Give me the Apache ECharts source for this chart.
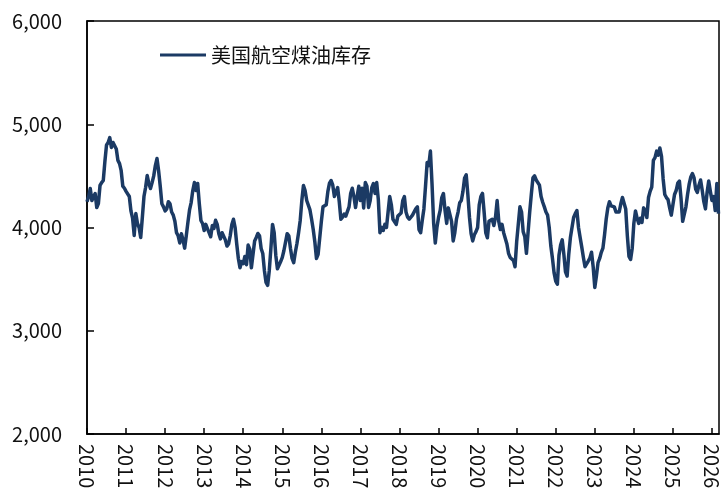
<!DOCTYPE html>
<html>
<head>
<meta charset="utf-8">
<style>
  html, body { margin: 0; padding: 0; background: #fff; }
  #chart { width: 722px; height: 493px; }
</style>
<script src="https://cdn.jsdelivr.net/npm/echarts@6/dist/echarts.min.js"></script>
</head>
<body>
<div id="chart"></div>
<script>
// US jet fuel inventory, semi-monthly readings (24 per year)
const seriesName = '美国航空煤油库存';
const v2010 = [4250,4300,4377,4261,4300,4329,4194,4232,4407,4435,4455,4640,4800,4823,4870,4774,4823,4813,4760,4650,4619,4550,4400,4380];
const v2011 = [4350,4335,4300,4160,4090,3923,4135,4039,4000,3903,4097,4300,4387,4503,4426,4377,4435,4500,4600,4668,4550,4400,4230,4200];
const v2012 = [4160,4180,4250,4230,4150,4120,4060,3950,3920,3850,3940,3880,3800,3920,4050,4170,4242,4358,4435,4358,4426,4232,4068,4039];
const v2013 = [3971,4030,3990,3950,3910,4020,3990,4070,4030,3940,3890,3950,3960,3880,3820,3840,3920,4030,4080,4000,3840,3700,3610,3670];
const v2014 = [3650,3720,3640,3830,3790,3610,3600,3870,3903,3942,3920,3797,3748,3584,3468,3440,3584,3800,4030,3950,3730,3600,3610,3670];
const v2015 = [3710,3777,3760,3940,3920,3800,3700,3660,3760,3845,3950,4068,4261,4407,4358,4261,4261,4170,4080,3980,3860,3700,3740,3900];
const v2016 = [4060,4200,4200,4220,4350,4430,4455,4410,4300,4300,4387,4250,4080,4100,4130,4110,4120,4200,4330,4380,4300,4194,4300,4400];
const v2017 = [4261,4380,4190,4435,4400,4194,4261,4387,4426,4329,4435,4270,3950,4000,3971,4030,4000,4150,4300,4220,4080,4080,4030,4110];
const v2018 = [4100,4140,4260,4300,4150,4100,4080,4070,4120,4120,4180,4200,3980,3950,4070,4180,4400,4630,4600,4740,4420,4040,3850,4000];
const v2019 = [4097,4165,4290,4329,4165,4040,4190,4194,4060,3870,3950,4080,4150,4240,4261,4350,4480,4510,4320,4100,3940,3870,3930,3960];
const v2020 = [4000,4220,4300,4330,4150,3950,3900,4060,4060,4080,4020,4100,4261,4060,3980,4030,3950,3960,3840,3750,3710,3710,3681,3620];
const v2021 = [3860,3874,4200,4150,3960,3910,3750,3950,4150,4320,4480,4500,4460,4470,4410,4300,4245,4200,4150,4120,4000,3820,3700,3560];
const v2022 = [3480,3450,3730,3830,3880,3740,3570,3530,3740,3900,4000,4097,4135,4165,4000,3903,3810,3710,3620,3613,3675,3705,3760,3620];
const v2023 = [3420,3530,3660,3700,3760,3800,3930,4080,4190,4250,4210,4200,4200,4150,4150,4150,4230,4290,4280,4180,3920,3720,3690,3800];
const v2024 = [4040,4160,4090,4040,4090,4050,4190,4160,4097,4290,4350,4390,4650,4677,4740,4700,4770,4690,4470,4320,4290,4270,4190,4120];
const v2025 = [4220,4320,4358,4430,4450,4280,4060,4060,4200,4320,4420,4490,4523,4480,4370,4340,4410,4460,4360,4250,4180,4340,4450,4350];
const v2026 = [4261,4300,4165,4426,4135];

const years = [2010,2011,2012,2013,2014,2015,2016,2017,2018,2019,2020,2021,2022,2023,2024,2025,2026];
const yearValues = [v2010,v2011,v2012,v2013,v2014,v2015,v2016,v2017,v2018,v2019,v2020,v2021,v2022,v2023,v2024,v2025,v2026];
const perYear = 24;

const yTicks = [2000, 3000, 4000, 5000, 6000];

const data = [];
years.forEach((y, k) => {
  yearValues[k].forEach((v, i) => data.push([y + i / perYear, v]));
});

const font = '"Noto Sans CJK SC", "Noto Sans", sans-serif';
const chart = echarts.init(document.getElementById('chart'), null, { renderer: 'canvas' });
chart.setOption({
  animation: false,
  backgroundColor: '#ffffff',
  grid: {
    left: 87, right: 3, top: 21, bottom: 59,
    show: true, borderColor: '#000', borderWidth: 1.5, backgroundColor: 'transparent'
  },
  legend: {
    data: [{ name: seriesName, icon: 'rect' }],
    left: 155, top: 40,
    itemWidth: 46, itemHeight: 3, itemGap: 4,
    textStyle: { fontFamily: font, fontSize: 20, color: '#111', padding: [0, 0, 0, 0] }
  },
  xAxis: {
    type: 'value',
    min: 2010, max: 2026.18, interval: 1,
    axisLine: { show: true, lineStyle: { color: '#000', width: 1.5 } },
    axisTick: { show: true, inside: true, length: 6, lineStyle: { color: '#000', width: 1.5 } },
    splitLine: { show: false },
    axisLabel: {
      rotate: -90, margin: 10,
      fontFamily: font, fontSize: 20, color: '#111',
      showMaxLabel: false,
      formatter: v => (Math.abs(v - Math.round(v)) < 1e-6 ? String(Math.round(v)) : '')
    }
  },
  yAxis: {
    type: 'value',
    min: yTicks[0], max: yTicks[yTicks.length - 1], interval: 1000,
    axisLine: { show: true, lineStyle: { color: '#000', width: 1.5 } },
    axisTick: { show: true, inside: true, length: 7, lineStyle: { color: '#000', width: 1.5 } },
    splitLine: { show: false },
    axisLabel: {
      margin: 25, fontFamily: font, fontSize: 20, color: '#111',
      formatter: v => v.toLocaleString('en-US')
    }
  },
  series: [{
    name: seriesName,
    type: 'line',
    data: data,
    showSymbol: false,
    symbol: 'none',
    color: '#1B3A64',
    lineStyle: { width: 3.5, color: '#1B3A64', join: 'round' }
  }]
});
</script>
</body>
</html>
